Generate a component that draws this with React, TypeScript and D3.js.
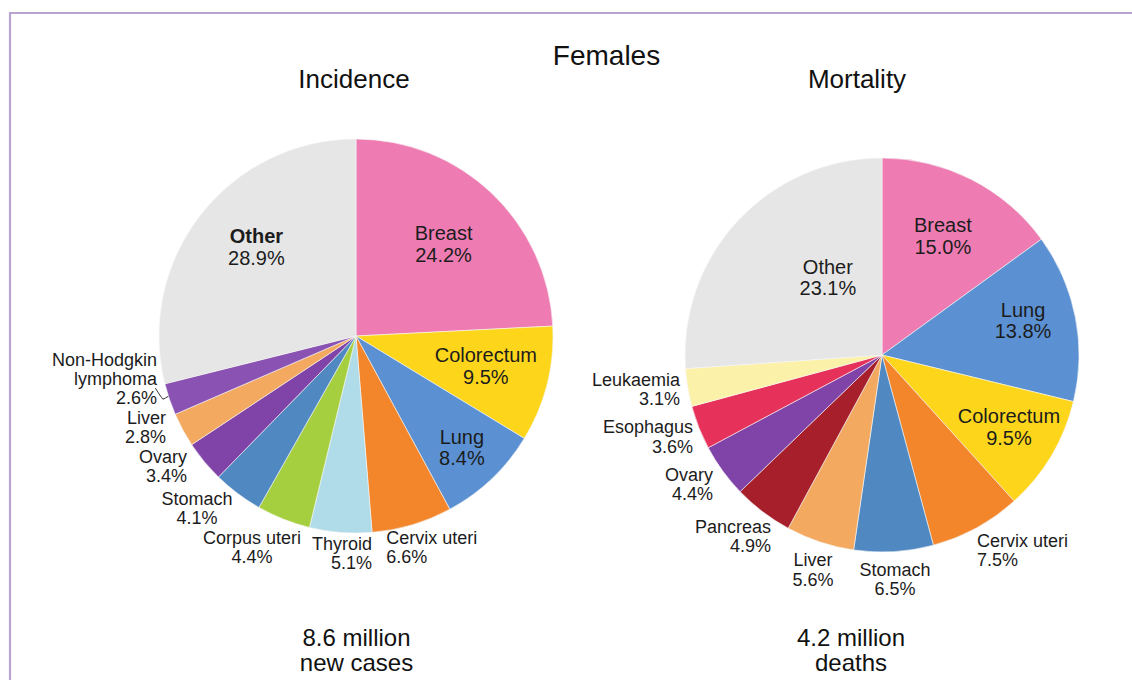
import React from "react";
import * as d3 from "d3";

// ---------- data ----------
const incidenceCancers = [
  "Breast", "Colorectum", "Lung", "Cervix uteri", "Thyroid", "Corpus uteri",
  "Stomach", "Ovary", "Liver", "Non-Hodgkin\nlymphoma", "Other",
];
const incidenceShares = [24.2, 9.5, 8.4, 6.6, 5.1, 4.4, 4.1, 3.4, 2.8, 2.6, 28.9];

const mortalityCancers = [
  "Breast", "Lung", "Colorectum", "Cervix uteri", "Stomach", "Liver",
  "Pancreas", "Ovary", "Esophagus", "Leukaemia", "Other",
];
const mortalityShares = [15.0, 13.8, 9.5, 7.5, 6.5, 5.6, 4.9, 4.4, 3.6, 3.1, 23.1];

const chartTitle = "Females";
const panelTitles = ["Incidence", "Mortality"];
const panelTotals = [["8.6 million", "new cases"], ["4.2 million", "deaths"]];

// ---------- styles ----------
const colorMap: Record<string, string> = {
  Breast: "#ee7cb2",
  Colorectum: "#fdd61c",
  Lung: "#5b91d2",
  "Cervix uteri": "#f3862a",
  Thyroid: "#b0dbe8",
  "Corpus uteri": "#a6cf40",
  Stomach: "#5089c2",
  Ovary: "#8043a7",
  Liver: "#f3aa60",
  "Non-Hodgkin\nlymphoma": "#8a53b3",
  Pancreas: "#a61f2b",
  Esophagus: "#e6325b",
  Leukaemia: "#fcf1a8",
  Other: "#e6e6e6",
};

type Lay = { k: number; dx?: number; dy?: number; anchor?: string; inside?: boolean; bold?: boolean };

const incidenceLayout: Record<string, Lay> = {
  Breast: { k: 0.645, inside: true },
  Colorectum: { k: 0.68, dy: -3, inside: true },
  Lung: { k: 0.78, inside: true },
  "Cervix uteri": { k: 1, dx: -26, dy: 22, anchor: "start" },
  Thyroid: { k: 1, dx: 31.5, dy: 21, anchor: "end" },
  "Corpus uteri": { k: 1, dx: -31.5, dy: 28, anchor: "middle" },
  Stomach: { k: 1, dx: -40.7, dy: 14.5, anchor: "middle" },
  Ovary: { k: 1, dx: -17.2, dy: 4.4, anchor: "end" },
  Liver: { k: 1, dx: -16.8, dy: -2.8, anchor: "end" },
  "Non-Hodgkin\nlymphoma": { k: 1, dx: -12.4, dy: -21, anchor: "end" },
  Other: { k: 0.68, dx: 6, dy: -7, inside: true, bold: true },
};

const mortalityLayout: Record<string, Lay> = {
  Breast: { k: 0.68, inside: true },
  Lung: { k: 0.737, dx: -1.4, dy: -6.5, inside: true },
  Colorectum: { k: 0.74, dx: 1.7, dy: -2.6, inside: true },
  "Cervix uteri": { k: 1, dx: 0.6, dy: 22.4, anchor: "start" },
  Stomach: { k: 1, dx: 1.2, dy: 27.2, anchor: "middle" },
  Liver: { k: 1, dx: -7, dy: 27.5, anchor: "middle" },
  Pancreas: { k: 1, dx: 8.2, dy: 24.2, anchor: "end" },
  Ovary: { k: 1, dx: -9.6, dy: 13.1, anchor: "end" },
  Esophagus: { k: 1, dx: -5.8, dy: 8.9, anchor: "end" },
  Leukaemia: { k: 1, dx: -7.7, dy: 1.3, anchor: "end" },
  Other: { k: 0.48, dx: 15, dy: -13, inside: true },
};

const FONT = "'Liberation Sans', Arial, Helvetica, sans-serif";
const R = 197;
const fmt = d3.format(".1f");

type PieProps = {
  cx: number;
  cy: number;
  names: string[];
  shares: number[];
  layout: Record<string, Lay>;
  leaderFor?: string;
};

function Pie({ cx, cy, names, shares, layout, leaderFor }: PieProps) {
  const angle = d3.scaleLinear().domain([0, 100]).range([0, 2 * Math.PI]);
  const cum = d3.cumsum(shares);
  const slices = names.map((name, i) => {
    const start = i === 0 ? 0 : cum[i - 1];
    // the last ("Other") slice fills the remaining part of the circle
    const end = i === names.length - 1 ? 100 : cum[i];
    return { name, value: shares[i], startAngle: angle(start), endAngle: angle(end) };
  });
  const arc = d3.arc<any>().innerRadius(0).outerRadius(R);

  return (
    <g transform={`translate(${cx},${cy})`}>
      {slices.map((s) => (
        <path
          key={s.name}
          d={arc(s) as string}
          fill={colorMap[s.name]}
          stroke="#f6f6f6"
          strokeWidth={0.6}
        />
      ))}
      {slices.map((s) => {
        const L = layout[s.name];
        const r = R * L.k;
        const labelArc = d3.arc<any>().innerRadius(r).outerRadius(r);
        const [px, py] = labelArc.centroid(s);
        const x = px + (L.dx || 0);
        const y = py + (L.dy || 0);
        const lines = [...s.name.split("\n"), fmt(s.value) + "%"];
        const size = L.inside ? 20 : 18;
        const lh = L.inside ? 21.5 : 19.2;
        const n = lines.length;
        return (
          <text
            key={"t" + s.name}
            x={x}
            y={y}
            fontFamily={FONT}
            fontSize={size}
            fill="#1c1c1c"
            textAnchor={L.anchor || "middle"}
          >
            {lines.map((ln, j) => (
              <tspan
                key={j}
                x={x}
                y={y + (j - (n - 1) / 2) * lh + size * 0.36}
                fontWeight={L.bold && j === 0 ? "bold" : "normal"}
              >
                {ln}
              </tspan>
            ))}
          </text>
        );
      })}
      {leaderFor &&
        slices
          .filter((s) => s.name === leaderFor)
          .map((s) => {
            const edge = d3.arc<any>().innerRadius(R).outerRadius(R).centroid(s);
            const [ex, ey] = edge;
            const p = d3.path();
            p.moveTo(ex - 14, ey - 11);
            p.quadraticCurveTo(ex - 9, ey - 3, ex - 6.5, ey);
            p.quadraticCurveTo(ex - 4, ey - 1, ex - 1, ey - 3);
            return (
              <path key="leader" d={p.toString()} fill="none" stroke="#333" strokeWidth={1} />
            );
          })}
    </g>
  );
}

export default function App() {
  return (
    <svg
      width={1132}
      height={680}
      style={{ position: "absolute", left: 0, top: 0, background: "#fff" }}
    >
      <rect x={0} y={0} width={1132} height={680} fill="#fff" />
      <path d="M10,680 L10,13 L1132,13" fill="none" stroke="#b9a3d1" strokeWidth={2.2} />

      <text x={606.5} y={65} textAnchor="middle" fontFamily={FONT} fontSize={28} fill="#111">
        {chartTitle}
      </text>
      <text x={354} y={88} textAnchor="middle" fontFamily={FONT} fontSize={26} fill="#111">
        {panelTitles[0]}
      </text>
      <text x={857} y={88} textAnchor="middle" fontFamily={FONT} fontSize={26} fill="#111">
        {panelTitles[1]}
      </text>

      <Pie
        cx={356}
        cy={336}
        names={incidenceCancers}
        shares={incidenceShares}
        layout={incidenceLayout}
        leaderFor={"Non-Hodgkin\nlymphoma"}
      />
      <Pie cx={882} cy={355} names={mortalityCancers} shares={mortalityShares} layout={mortalityLayout} />

      {panelTotals.map((lines, i) => (
        <text
          key={"tot" + i}
          textAnchor="middle"
          fontFamily={FONT}
          fontSize={24}
          fill="#111"
        >
          {lines.map((ln, j) => (
            <tspan key={j} x={i === 0 ? 356.5 : 851} y={646 + j * 24.5}>
              {ln}
            </tspan>
          ))}
        </text>
      ))}
    </svg>
  );
}
